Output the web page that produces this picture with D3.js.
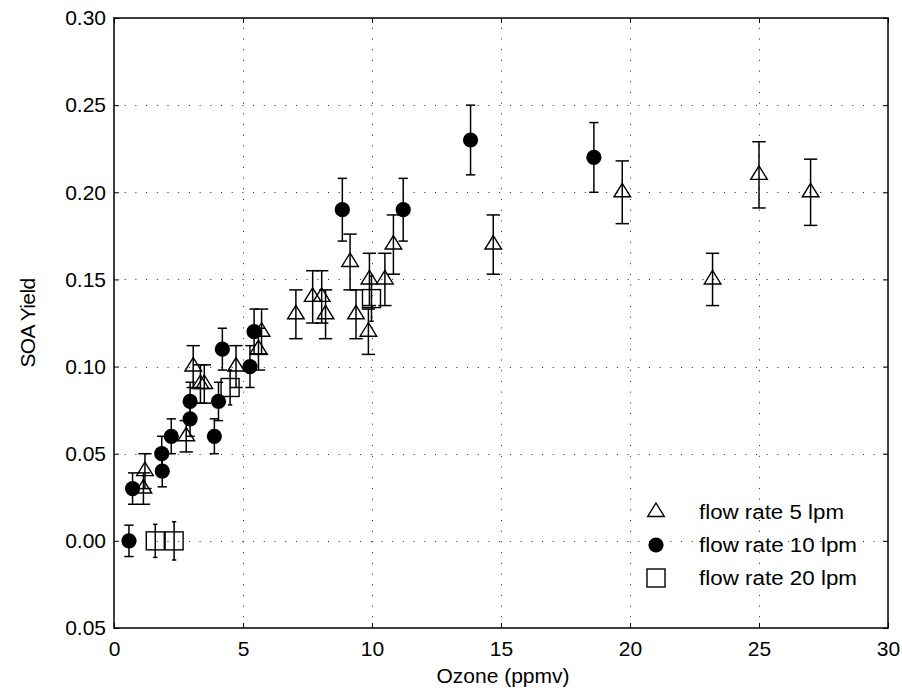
<!DOCTYPE html>
<html>
<head>
<meta charset="utf-8">
<script src="https://cdn.jsdelivr.net/npm/d3@7/dist/d3.min.js"></script>
<style>
  html, body { margin: 0; padding: 0; background: #fff; }
  svg { display: block; }
  text { font-family: "Liberation Sans", Arial, Helvetica, sans-serif; fill: #000; }
</style>
</head>
<body>
<svg id="chart" width="902" height="690"></svg>
<script>
// ---- data ----
const xTickValues = [0, 5, 10, 15, 20, 25, 30];
const xTickLabels = ["0", "5", "10", "15", "20", "25", "30"];
const yTickValues = [-0.05, 0.00, 0.05, 0.10, 0.15, 0.20, 0.25, 0.30];
const yTickLabels = ["0.05", "0.00", "0.05", "0.10", "0.15", "0.20", "0.25", "0.30"];

// flow rate 5 lpm (triangles)
const tri_x   = [1.14, 1.20, 2.80, 3.07, 3.35, 3.50, 4.73, 5.60, 5.72, 7.05, 7.70, 8.05, 8.20, 9.15, 9.38, 9.86, 9.90, 10.50, 10.83, 14.70, 19.70, 23.20, 25.00, 27.00];
const tri_y   = [0.03, 0.04, 0.06, 0.10, 0.09, 0.09, 0.10, 0.11, 0.12, 0.13, 0.14, 0.14, 0.13, 0.16, 0.13, 0.12, 0.15, 0.15, 0.17, 0.17, 0.20, 0.15, 0.21, 0.20];
const tri_err = [0.009, 0.010, 0.009, 0.012, 0.011, 0.011, 0.012, 0.012, 0.013, 0.014, 0.015, 0.015, 0.014, 0.016, 0.014, 0.013, 0.015, 0.015, 0.017, 0.017, 0.018, 0.015, 0.019, 0.019];

// flow rate 10 lpm (filled circles)
const cir_x   = [0.58, 0.72, 1.87, 1.85, 2.22, 2.95, 2.95, 3.89, 4.05, 4.20, 5.27, 5.43, 8.85, 11.21, 13.82, 18.60];
const cir_y   = [0.00, 0.03, 0.04, 0.05, 0.06, 0.07, 0.08, 0.06, 0.08, 0.11, 0.10, 0.12, 0.19, 0.19, 0.23, 0.22];
const cir_err = [0.009, 0.009, 0.009, 0.010, 0.010, 0.010, 0.011, 0.010, 0.011, 0.012, 0.012, 0.013, 0.018, 0.018, 0.020, 0.020];

// flow rate 20 lpm (squares)
const sq_x   = [1.60, 2.33, 4.50, 9.98];
const sq_y   = [0.000, 0.000, 0.088, 0.139];
const sq_err = [0.0095, 0.011, 0.010, 0.013];

const legendLabels = ["flow rate 5 lpm", "flow rate 10 lpm", "flow rate 20 lpm"];
const xLabel = "Ozone (ppmv)";
const yLabel = "SOA Yield";

// ---- layout ----
const svg = d3.select("#chart");
const L = 114, R = 888, T = 18, B = 628;
const x = d3.scaleLinear().domain([0, 30]).range([L, R]);
const y = d3.scaleLinear().domain([-0.05, 0.30]).range([B, T]);
const FONT = '"Liberation Sans", Arial, sans-serif';

svg.append("rect").attr("width", 902).attr("height", 690).attr("fill", "#fff");

// grid
const grid = svg.append("g").attr("stroke", "#222").attr("stroke-width", 1)
  .attr("stroke-dasharray", "1,9.7").attr("fill", "none");
grid.selectAll(".gx").data(xTickValues.slice(1, -1)).enter().append("line")
  .attr("x1", d => Math.round(x(d)) + 0.5).attr("x2", d => Math.round(x(d)) + 0.5)
  .attr("y1", B).attr("y2", T);
grid.selectAll(".gy").data(yTickValues.slice(1, -1)).enter().append("line")
  .attr("y1", d => Math.round(y(d)) + 0.5).attr("y2", d => Math.round(y(d)) + 0.5)
  .attr("x1", L).attr("x2", R);

// axes
const xAxis = d3.axisBottom(x).tickValues(xTickValues)
  .tickFormat((d, i) => xTickLabels[i]).tickSize(-5).tickPadding(13);
const gx = svg.append("g").attr("transform", `translate(0,${B})`).call(xAxis);
gx.select(".domain").remove();
gx.selectAll(".tick line").attr("stroke", "#000").attr("stroke-width", 1);
gx.selectAll(".tick text").attr("font-size", 21).attr("dy", "0.71em").attr("font-family", FONT);

const yAxis = d3.axisLeft(y).tickValues(yTickValues)
  .tickFormat((d, i) => yTickLabels[i]).tickSize(-5).tickPadding(8);
const gy = svg.append("g").attr("transform", `translate(${L},0)`).call(yAxis);
gy.select(".domain").remove();
gy.selectAll(".tick line").attr("stroke", "#000").attr("stroke-width", 1);
gy.selectAll(".tick text").attr("font-size", 21).attr("font-family", FONT);

// top / right ticks
const gxt = svg.append("g").attr("transform", `translate(0,${T})`)
  .call(d3.axisTop(x).tickValues(xTickValues).tickSize(-5).tickFormat(""));
gxt.select(".domain").remove();
const gyr = svg.append("g").attr("transform", `translate(${R},0)`)
  .call(d3.axisRight(y).tickValues(yTickValues).tickSize(-5).tickFormat(""));
gyr.select(".domain").remove();

// frame
svg.append("rect").attr("x", L).attr("y", T).attr("width", R - L).attr("height", B - T)
  .attr("fill", "none").attr("stroke", "#000").attr("stroke-width", 1.5);

// labels
svg.append("text").attr("x", (L + R) / 2 + 2).attr("y", 683).attr("text-anchor", "middle")
  .attr("font-size", 21).text(xLabel);
svg.append("text").attr("transform", `translate(35,${(T + B) / 2}) rotate(-90)`)
  .attr("text-anchor", "middle").attr("font-size", 21).attr("letter-spacing", -0.6).text(yLabel);

// ---- series ----
function pack(xs, ys, es) { return xs.map((v, i) => ({ x: v, y: ys[i], e: es[i] })); }
const series = [
  { data: pack(tri_x, tri_y, tri_err), shape: "tri" },
  { data: pack(cir_x, cir_y, cir_err), shape: "cir" },
  { data: pack(sq_x, sq_y, sq_err), shape: "sq" }
];

function drawMarker(g, shape, cx, cy) {
  if (shape === "tri") {
    g.append("path")
      .attr("d", `M${cx},${cy - 9} L${cx + 8.3},${cy + 4.5} L${cx - 8.3},${cy + 4.5} Z`)
      .attr("fill", "none").attr("stroke", "#000").attr("stroke-width", 1.4);
  } else if (shape === "cir") {
    g.append("circle").attr("cx", cx).attr("cy", cy).attr("r", 7.6).attr("fill", "#000");
  } else {
    g.append("rect").attr("x", cx - 9).attr("y", cy - 9).attr("width", 18).attr("height", 18)
      .attr("fill", "none").attr("stroke", "#000").attr("stroke-width", 1.4);
  }
}

series.forEach(s => {
  const ext = d3.extent(s.data, d => d.x);
  const tee = (ext[1] - ext[0]) / 100; // cap half-width in data units
  const g = svg.append("g");
  s.data.forEach(d => {
    const cx = x(d.x), cy = y(d.y);
    const y1 = y(d.y + d.e), y2 = y(d.y - d.e);
    const capL = x(d.x - tee), capR = x(d.x + tee);
    const eb = g.append("g").attr("stroke", "#000").attr("stroke-width", 1.5);
    eb.append("line").attr("x1", cx).attr("x2", cx).attr("y1", y1).attr("y2", y2);
    eb.append("line").attr("x1", capL).attr("x2", capR).attr("y1", y1).attr("y2", y1);
    eb.append("line").attr("x1", capL).attr("x2", capR).attr("y1", y2).attr("y2", y2);
    drawMarker(g, s.shape, cx, cy);
  });
});

// ---- legend ----
const legRowsY = [512, 545, 578];
const legWidths = [145, 158, 158];
const leg = svg.append("g");
series.forEach((s, i) => {
  drawMarker(leg, s.shape, 656, legRowsY[i]);
  leg.append("text").attr("x", 699).attr("y", legRowsY[i] + 7).attr("font-size", 20)
    .attr("textLength", legWidths[i]).attr("lengthAdjust", "spacingAndGlyphs")
    .text(legendLabels[i]);
});
</script>
</body>
</html>
